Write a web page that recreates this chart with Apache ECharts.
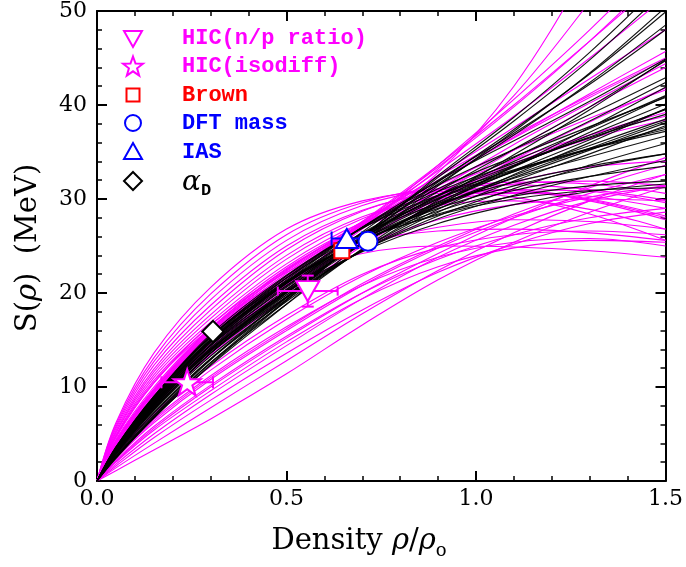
<!DOCTYPE html>
<html><head><meta charset="utf-8">
<script src="https://cdn.jsdelivr.net/npm/echarts@6/dist/echarts.min.js"></script>
<style>html,body{margin:0;padding:0;background:#fff}#c{width:686px;height:567px}</style>
</head><body><div id="c"></div>
<script>
// density grid (rho/rho0) where each curve is sampled
const densityGrid = [0, 0.05, 0.15, 0.3, 0.5, 0.7, 0.9, 1.1, 1.3, 1.5];

// magenta curves: S(rho) in MeV at densityGrid
const magentaCurves = [
  [0, 6.2, 13.6, 20.6, 26.8, 29.8, 30.8, 30.2, 28.4, 25.6],
  [0, 6.0, 13.1, 19.9, 26.2, 29.6, 31.0, 30.9, 29.8, 27.8],
  [0, 5.8, 12.7, 19.3, 25.6, 29.3, 31.1, 31.5, 31.0, 29.9],
  [0, 5.6, 12.3, 18.7, 25.0, 28.8, 30.6, 30.9, 30.0, 28.2],
  [0, 5.4, 11.9, 18.2, 24.6, 28.7, 30.9, 31.8, 31.6, 30.6],
  [0, 5.2, 11.6, 17.7, 24.0, 28.1, 30.2, 30.7, 29.9, 28.0],
  [0, 5.1, 11.3, 17.3, 23.6, 27.9, 30.4, 31.6, 31.9, 31.4],
  [0, 4.9, 11.0, 16.9, 23.1, 27.5, 30.0, 31.0, 30.8, 29.6],
  [0, 4.8, 10.7, 16.6, 22.8, 27.2, 29.7, 30.6, 30.3, 29.0],
  [0, 4.7, 10.5, 16.3, 22.5, 27.0, 29.3, 29.8, 28.9, 26.8],
  [0, 4.3, 9.8, 16.2, 22.6, 27.2, 31.0, 34.2, 36.8, 38.8],
  [0, 4.2, 9.7, 16.0, 22.3, 27.2, 31.4, 35.2, 38.6, 41.6],
  [0, 4.2, 9.6, 15.9, 22.1, 27.3, 32.0, 36.5, 40.8, 44.8],
  [0, 4.1, 9.5, 15.8, 21.9, 27.3, 32.5, 37.6, 42.8, 48.0],
  [0, 4.1, 9.4, 15.7, 21.8, 27.4, 33.0, 38.8, 45.0, 51.5],
  [0, 4.0, 9.3, 15.6, 21.7, 27.5, 33.4, 39.8, 46.8, 54.5],
  [0, 4.2, 9.7, 16.1, 22.4, 27.6, 32.4, 36.8, 41.0, 45.0],
  [0, 4.0, 9.4, 15.6, 21.7, 27.0, 31.9, 36.6, 41.2, 45.7],
  [0, 3.6, 8.6, 14.6, 21.0, 26.8, 32.8, 42.0, 55.0, 70.0],
  [0, 3.8, 8.9, 15.0, 21.4, 27.2, 33.2, 41.0, 51.0, 62.0],
  [0, 1.1, 3.3, 6.6, 11.4, 16.6, 21.4, 25.4, 28.6, 31.3],
  [0, 1.6, 4.6, 8.6, 13.6, 18.2, 22.2, 25.2, 27.4, 28.6],
  [0, 2.0, 5.4, 9.6, 14.8, 19.4, 22.8, 24.8, 25.6, 25.4],
  [0, 2.2, 5.8, 10.2, 15.4, 20.0, 23.6, 26.2, 28.0, 29.0],
  [0, 2.4, 6.2, 10.8, 16.0, 20.8, 24.8, 28.0, 30.6, 32.6],
  [0, 2.6, 6.6, 11.2, 16.4, 20.8, 23.8, 25.4, 25.8, 25.0],
  [0, 2.8, 7.0, 11.8, 17.2, 21.8, 25.4, 28.2, 30.2, 31.4],
  [0, 2.1, 5.6, 10.0, 15.2, 20.0, 24.2, 28.0, 31.4, 34.4],
  [0, 1.8, 5.0, 9.2, 14.4, 19.4, 23.8, 27.2, 29.8, 31.4],
  [0, 2.9, 7.2, 12.2, 17.6, 22.0, 24.8, 26.2, 26.6, 26.2],
  [0, 2.5, 6.4, 11.0, 16.2, 21.0, 25.0, 28.4, 31.2, 33.6],
  [0, 1.4, 4.0, 7.8, 12.8, 17.8, 22.4, 26.4, 29.8, 32.6],
  [0, 4.4, 10.0, 16.2, 21.6, 24.2, 25.0, 24.9, 24.5, 23.8],
  [0, 4.6, 10.4, 16.6, 22.2, 25.4, 26.6, 26.8, 26.4, 25.6],
  [0, 4.0, 9.3, 15.4, 21.2, 25.0, 27.0, 27.8, 27.6, 26.8],
  [0, 3.8, 9.0, 15.0, 20.8, 25.0, 27.8, 29.4, 30.0, 29.8],
  [0, 3.7, 8.8, 14.8, 20.9, 26.0, 30.2, 33.8, 36.8, 39.2],
  [0, 3.5, 8.4, 14.2, 20.4, 25.6, 30.0, 33.6, 36.4, 38.4],
  [0, 3.3, 8.0, 13.8, 20.0, 25.4, 30.4, 35.2, 39.8, 44.0],
  [0, 3.4, 8.2, 14.0, 20.2, 25.8, 31.0, 35.8, 40.2, 44.4],
  [0, 3.6, 8.6, 14.4, 20.4, 25.4, 29.2, 31.8, 33.4, 34.0],
  [0, 3.2, 7.8, 13.4, 19.6, 25.0, 29.8, 34.2, 38.2, 41.8],
  [0, 3.5, 8.4, 14.4, 20.8, 27.0, 33.6, 40.6, 48.0, 56.0],
  [0, 3.9, 9.1, 15.4, 21.6, 27.6, 33.6, 40.0, 46.8, 53.8]
];

// black curves: S(rho) in MeV at densityGrid
const blackCurves = [
  [0, 3.6, 9.0, 15.4, 21.3, 25.6, 28.3, 30.0, 30.9, 31.2],
  [0, 3.6, 8.9, 15.3, 21.2, 25.6, 28.4, 30.3, 31.4, 31.9],
  [0, 3.3, 8.3, 14.4, 20.1, 24.4, 27.4, 29.4, 30.8, 31.6],
  [0, 3.5, 8.8, 15.1, 21.1, 25.6, 28.7, 30.9, 32.4, 33.5],
  [0, 3.5, 8.9, 15.4, 21.6, 26.3, 29.5, 31.8, 33.5, 34.8],
  [0, 3.4, 8.6, 14.9, 21.0, 25.7, 29.0, 31.4, 33.3, 34.8],
  [0, 3.2, 8.1, 14.0, 19.8, 24.5, 27.9, 30.4, 32.4, 34.1],
  [0, 3.6, 9.0, 15.6, 21.9, 26.9, 30.4, 33.1, 35.3, 37.2],
  [0, 3.3, 8.4, 14.7, 20.8, 25.7, 29.3, 32.2, 34.5, 36.7],
  [0, 3.1, 7.9, 13.8, 19.6, 24.5, 28.2, 31.1, 33.6, 35.9],
  [0, 3.5, 8.8, 15.3, 21.8, 26.9, 30.8, 33.8, 36.5, 39.0],
  [0, 3.2, 8.2, 14.4, 20.6, 25.7, 29.7, 32.9, 35.7, 38.5],
  [0, 3.0, 7.7, 13.6, 19.5, 24.5, 28.6, 31.9, 34.8, 37.8],
  [0, 3.4, 8.6, 15.1, 21.6, 27.0, 31.1, 34.5, 37.7, 40.8],
  [0, 3.1, 8.1, 14.2, 20.4, 25.8, 30.0, 33.5, 36.8, 40.1],
  [0, 2.9, 7.5, 13.3, 19.3, 24.6, 28.9, 32.6, 36.0, 39.6],
  [0, 3.3, 8.4, 14.8, 21.4, 27.0, 31.5, 35.3, 39.0, 42.9],
  [0, 3.0, 7.8, 13.9, 20.2, 25.8, 30.4, 34.4, 38.3, 42.4],
  [0, 2.8, 7.3, 13.0, 19.1, 24.6, 29.3, 33.5, 37.6, 41.9],
  [0, 3.1, 8.2, 14.5, 21.2, 27.0, 31.9, 36.2, 40.4, 44.9],
  [0, 2.9, 7.6, 13.6, 20.0, 25.8, 30.8, 35.3, 39.8, 44.7],
  [0, 2.6, 6.9, 12.6, 18.8, 24.7, 29.9, 34.7, 39.5, 44.8],
  [0, 2.9, 7.6, 13.6, 20.3, 26.5, 32.0, 37.0, 42.2, 48.0],
  [0, 2.7, 7.2, 13.0, 19.6, 25.9, 31.6, 36.8, 42.4, 48.5],
  [0, 2.6, 7.0, 12.9, 19.5, 25.9, 31.8, 37.4, 43.3, 49.9],
  [0, 2.5, 6.7, 12.3, 18.8, 25.4, 31.4, 37.2, 43.4, 50.4],
  [0, 2.5, 6.8, 12.6, 19.3, 26.0, 32.3, 38.3, 44.8, 52.2],
  [0, 2.4, 6.7, 12.4, 19.2, 26.0, 32.5, 38.7, 45.6, 53.3],
  [0, 3.3, 8.5, 14.8, 21.0, 26.2, 30.0, 32.9, 35.3, 37.6],
  [0, 3.2, 8.1, 14.1, 20.2, 25.3, 29.2, 32.3, 35.2, 38.1],
  [0, 3.4, 8.7, 15.0, 21.2, 26.4, 30.4, 33.6, 36.6, 39.5],
  [0, 3.0, 7.9, 13.9, 20.0, 25.3, 29.5, 33.0, 36.3, 39.6],
  [0, 3.2, 8.3, 14.5, 20.7, 26.0, 30.3, 34.0, 37.5, 41.0],
  [0, 3.0, 7.7, 13.6, 19.8, 25.2, 29.6, 33.4, 37.1, 40.9],
  [0, 3.4, 8.6, 14.9, 21.1, 26.3, 30.1, 33.0, 35.4, 37.4],
  [0, 3.1, 8.0, 14.0, 20.1, 25.3, 29.3, 32.5, 35.4, 38.3]
];

// tick labels
const xTickLabels = ['0.0', '0.5', '1.0', '1.5'];
const yTickLabels = ['0', '10', '20', '30', '40', '50'];

// constraint points: [density, S, xErr, yErr]
const hicNpRatio = [[0.556, 20.2, 0.079, 1.65]];
const hicIsodiff = [[0.238, 10.5, 0.068, 0]];
const brown = [[0.646, 24.5, 0, 0]];
const dftMass = [[0.715, 25.5, 0, 0]];
const ias = [[0.659, 25.8, 0.04, 0]];
const alphaD = [[0.306, 15.9, 0, 0]];

const MAG = '#ff00ff', RED = '#ff0000', BLUE = '#0000ff';
const SERIF = "'DejaVu Serif', serif";

const series = [];
magentaCurves.forEach(c => series.push({
  type: 'line', data: densityGrid.map((x, i) => [x, c[i]]), symbol: 'none',
  smooth: 0.35, silent: true, z: 2,
  lineStyle: { color: MAG, width: 1.1 }
}));
blackCurves.forEach(c => series.push({
  type: 'line', data: densityGrid.map((x, i) => [x, c[i]]), symbol: 'none',
  smooth: 0.35, silent: true, z: 3,
  lineStyle: { color: 'rgba(0,0,0,0.92)', width: 1.15 }
}));

function errorBars(data, color, capX, capY) {
  return {
    type: 'custom', data: data, z: 5, silent: true,
    renderItem: function (params, api) {
      const x = api.value(0), y = api.value(1), ex = api.value(2), ey = api.value(3);
      const st = { stroke: color, lineWidth: 2 };
      const ch = [];
      if (ex > 0) {
        const a = api.coord([x - ex, y]), b = api.coord([x + ex, y]);
        ch.push({ type: 'line', shape: { x1: a[0], y1: a[1], x2: b[0], y2: b[1] }, style: st });
        ch.push({ type: 'line', shape: { x1: a[0], y1: a[1] - capX / 2, x2: a[0], y2: a[1] + capX / 2 }, style: st });
        ch.push({ type: 'line', shape: { x1: b[0], y1: b[1] - capX / 2, x2: b[0], y2: b[1] + capX / 2 }, style: st });
      }
      if (ey > 0) {
        const a = api.coord([x, y - ey]), b = api.coord([x, y + ey]);
        ch.push({ type: 'line', shape: { x1: a[0], y1: a[1], x2: b[0], y2: b[1] }, style: st });
        ch.push({ type: 'line', shape: { x1: a[0] - capY / 2, y1: a[1], x2: a[0] + capY / 2, y2: a[1] }, style: st });
        ch.push({ type: 'line', shape: { x1: b[0] - capY / 2, y1: b[1], x2: b[0] + capY / 2, y2: b[1] }, style: st });
      }
      return { type: 'group', children: ch };
    }
  };
}
function marker(data, color, symbol, size, rotate) {
  return {
    type: 'scatter', data: data.map(d => [d[0], d[1]]), symbol: symbol, symbolSize: size,
    symbolRotate: rotate || 0, z: 6, silent: true,
    itemStyle: { color: '#ffffff', borderColor: color, borderWidth: 2, opacity: 1 }
  };
}
const STAR = 'path://M50,0 L61.2,34.5 L97.6,34.5 L68.2,55.9 L79.4,90.5 L50,69.1 L20.6,90.5 L31.8,55.9 L2.4,34.5 L38.8,34.5 Z';

series.push(errorBars(hicNpRatio, MAG, 9, 12));
series.push(errorBars(hicIsodiff, MAG, 12, 12));
series.push(errorBars(ias, BLUE, 14, 12));
series.push(marker(hicNpRatio, MAG, 'triangle', [23, 20], 180));
series.push(marker(hicIsodiff, MAG, STAR, [27, 26]));
series.push(marker(alphaD, '#000', 'rect', 15, 45));
series.push(marker(brown, RED, 'rect', 15));
series.push(marker(ias, BLUE, 'triangle', [22, 19]));
series.push(marker(dftMass, BLUE, 'circle', 19));

const tickCommon = {
  axisLine: { show: true, onZero: false, lineStyle: { color: '#000', width: 2 } },
  axisTick: { show: true, inside: true, length: 10, lineStyle: { color: '#000', width: 2 } },
  minorTick: { show: true, splitNumber: 5, length: 5, lineStyle: { color: '#000', width: 1.5 } },
  splitLine: { show: false }
};
const xAx = (pos, lbl) => Object.assign({
  type: 'value', min: 0, max: 1.5, interval: 0.5, position: pos,
  axisLabel: { show: lbl, margin: 7, fontFamily: SERIF, fontSize: 22, color: '#000',
    formatter: v => xTickLabels[Math.round(v / 0.5)] }
}, tickCommon);
const yAx = (pos, lbl) => Object.assign({
  type: 'value', min: 0, max: 50, interval: 10, position: pos,
  axisLabel: { show: lbl, margin: 10, fontFamily: SERIF, fontSize: 22, color: '#000',
    formatter: v => yTickLabels[Math.round(v / 10)] }
}, tickCommon);

// legend (drawn as annotation graphics)
function starPts(cx, cy, R, r) {
  const p = [];
  for (let k = 0; k < 10; k++) {
    const a = -Math.PI / 2 + k * Math.PI / 5, rr = k % 2 ? r : R;
    p.push([cx + rr * Math.cos(a), cy + rr * Math.sin(a)]);
  }
  return p;
}
const legendRows = [
  { text: 'HIC(n/p ratio)', color: MAG, y: 38 },
  { text: 'HIC(isodiff)', color: MAG, y: 66 },
  { text: 'Brown', color: RED, y: 95 },
  { text: 'DFT mass', color: BLUE, y: 123 },
  { text: 'IAS', color: BLUE, y: 152 }
];
const LX = 133, TX = 182;
const gst = c => ({ stroke: c, lineWidth: 2, fill: '#fff' });
const graphic = [
  { type: 'polygon', shape: { points: [[LX - 9, 31], [LX + 9, 31], [LX, 47]] }, style: gst(MAG), z: 10 },
  { type: 'polygon', shape: { points: starPts(LX, 67, 10.5, 4.3) }, style: gst(MAG), z: 10 },
  { type: 'rect', shape: { x: LX - 6.5, y: 88.5, width: 13, height: 13 }, style: gst(RED), z: 10 },
  { type: 'circle', shape: { cx: LX, cy: 123, r: 8 }, style: gst(BLUE), z: 10 },
  { type: 'polygon', shape: { points: [[LX - 9, 159], [LX + 9, 159], [LX, 143]] }, style: gst(BLUE), z: 10 },
  { type: 'polygon', shape: { points: [[LX, 172], [LX + 9, 181], [LX, 190], [LX - 9, 181]] }, style: gst('#000'), z: 10 },
  { type: 'text', x: TX, y: 183, style: { text: 'α', font: "italic 28px 'DejaVu Serif', serif", fill: '#000', textVerticalAlign: 'middle' }, z: 10 },
  { type: 'text', x: 201, y: 191, style: { text: 'D', font: "bold 17px 'Liberation Mono', monospace", fill: '#000', textVerticalAlign: 'middle' }, z: 10 },
  { type: 'text', x: 28, y: 248, rotation: Math.PI / 2,
    style: { text: '{n|S(}{i|ρ}{n|)  (MeV)}', textAlign: 'center', textVerticalAlign: 'middle', fill: '#000',
      rich: { n: { fontFamily: SERIF, fontSize: 29 }, i: { fontFamily: SERIF, fontSize: 29, fontStyle: 'italic' } } }, z: 10 },
  { type: 'text', x: 359, y: 541,
    style: { text: '{n|Density }{i|ρ}{n|/}{i|ρ}{s|o}', textAlign: 'center', textVerticalAlign: 'middle', fill: '#000',
      rich: { n: { fontFamily: SERIF, fontSize: 29, lineHeight: 38, verticalAlign: 'middle' },
              i: { fontFamily: SERIF, fontSize: 29, fontStyle: 'italic', lineHeight: 38, verticalAlign: 'middle' },
              s: { fontFamily: SERIF, fontSize: 18, lineHeight: 38, verticalAlign: 'bottom' } } }, z: 10 }
];
legendRows.forEach(r => graphic.push({ type: 'text', x: TX, y: r.y,
  style: { text: r.text, font: "bold 22px 'Liberation Mono', monospace", fill: r.color, textVerticalAlign: 'middle' }, z: 10 }));

const chart = echarts.init(document.getElementById('c'), null, { renderer: 'canvas' });
chart.setOption({
  animation: false,
  backgroundColor: '#fff',
  grid: { left: 97, right: 20, top: 8, bottom: 86, containLabel: false },
  xAxis: [xAx('bottom', true), xAx('top', false)],
  yAxis: [yAx('left', true), yAx('right', false)],
  series: series,
  graphic: graphic
});
</script></body></html>
